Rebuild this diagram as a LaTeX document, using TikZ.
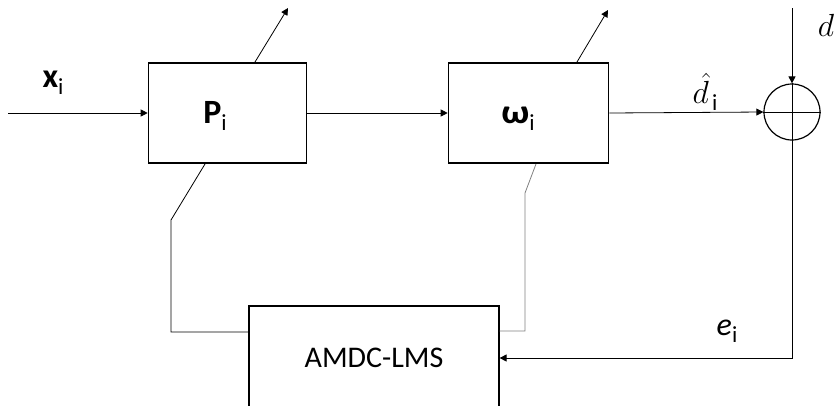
\RequirePackage{fix-cm}
\documentclass[tikz,border=0pt]{standalone}
\usepackage{fontspec}
\setmainfont{Carlito}
\usetikzlibrary{arrows.meta,positioning}
\newcommand{\lowi}{\raisebox{-0.45ex}{\fontsize{23}{23}\selectfont\mdseries\upshape i}}

\begin{document}
\begin{tikzpicture}[
  x=1pt, y=-1pt,
  >={Triangle[length=7pt,width=7pt]},
  blk/.style={draw, line width=1.6pt, rectangle, inner sep=0pt, minimum width=158pt, minimum height=100pt},
  sum/.style={draw, line width=1.2pt, circle, inner sep=0pt, minimum size=56pt},
  wire/.style={line width=0.8pt},
  lbl/.style={inner sep=0pt, font=\fontsize{34}{36}\selectfont}
]
\useasboundingbox (0,0) rectangle (838,405);
\clip (0,0) rectangle (838,405);

\node[blk] (P) at (227.5,113) {};
\node[blk, minimum width=160pt] (W) at (528.5,113) {};
\node[sum] (S) at (792,112) {};
\node[draw, line width=1.2pt, inner sep=0pt, minimum width=250pt, minimum height=104pt,
      font=\fontsize{30}{32}\selectfont] (A) at (374,358) {AMDC-LMS};

\node[lbl] (xl) at (53,83) {\textbf{x}\lowi};
\node[lbl] (Pl) at (215,116) {\textbf{P}\lowi};
\node[lbl] (Wl) at (518,119) {\scalebox{1.15}[1]{\textbf{ω}}\lowi};
\node[lbl, font=\fontsize{32}{34}\selectfont] (dhl) at (705,92) {$\hat{d}$\kern3pt\lowi};
\node[lbl, font=\fontsize{32}{34}\selectfont] (el) at (727,331) {\textit{e}\lowi};
\node[lbl, font=\fontsize{32}{34}\selectfont] (dl) at (826,25) {$d$};

\coordinate (in) at (8,113);
\coordinate (Pt) at (255,62);
\coordinate (Pa) at (288,8);
\coordinate (Wt) at (577,62);
\coordinate (Wa) at (608,10);
\coordinate (Pb) at (205,164);
\coordinate (Pk) at (171,220);
\coordinate (Wb) at (536,164);
\coordinate (Wk) at (525,193);
\coordinate (dtop) at (792,8);

\draw[wire,->] (in) -- (P);
\draw[wire,->] (P) -- (W);
\draw[wire,->] (W.east) -- (S.west);
\draw[wire,->] (dtop) -- (S.north);
\draw[wire] (S.west) -- (S.east) (S.north) -- (S.south);
\draw[wire,->] (Pt) -- (Pa);
\draw[wire,->] (Wt) -- (Wa);
\draw[wire] (Pb) -- (Pk) |- ([yshift=26pt]A.west);
\draw[wire, gray] (Wb) -- (Wk) |- ([yshift=27pt]A.east);
\draw[wire,->] (S.south) |- (A.east);
\end{tikzpicture}
\end{document}
